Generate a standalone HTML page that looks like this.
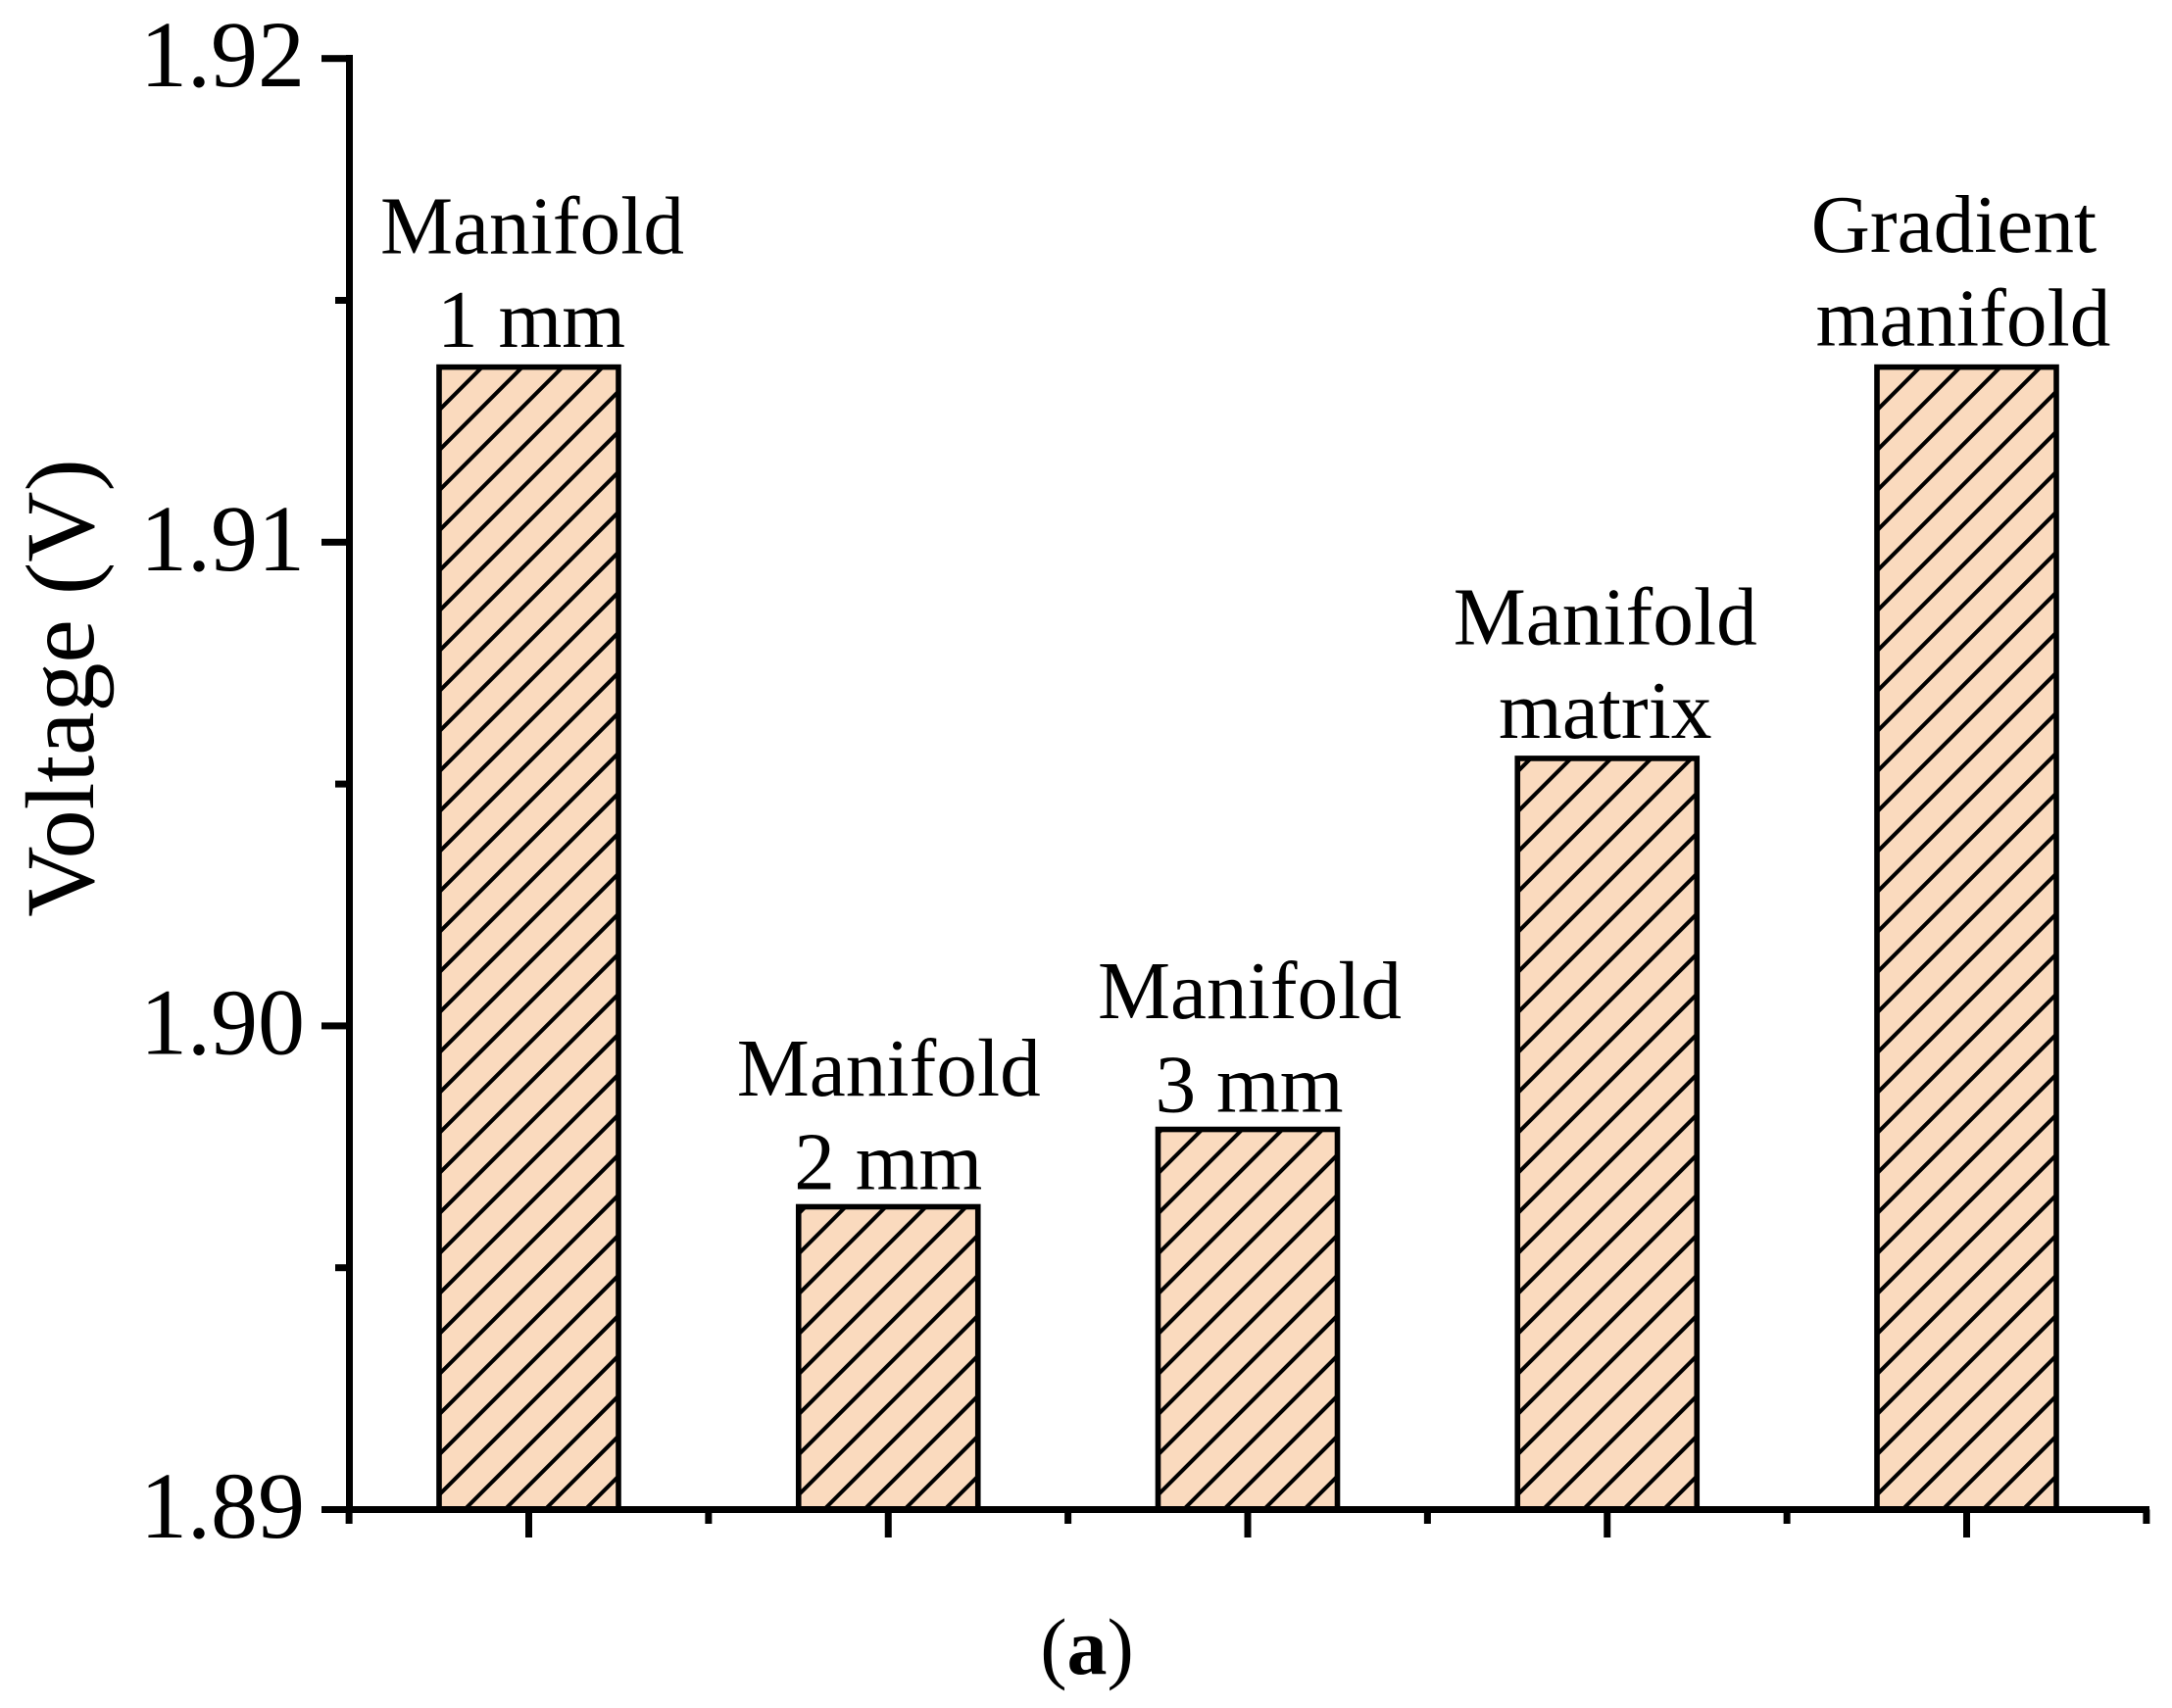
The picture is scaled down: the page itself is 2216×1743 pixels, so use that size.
<!DOCTYPE html>
<html lang="en">
<head>
<meta charset="utf-8">
<title>Voltage bar chart</title>
<style>
html,body{margin:0;padding:0;background:#fff;}
svg{display:block;}
text{font-family:"Liberation Serif",serif;fill:#000;}
</style>
</head>
<body>
<svg id="chart" xmlns="http://www.w3.org/2000/svg" width="2216" height="1743" viewBox="0 0 2216 1743">
  <rect x="0" y="0" width="2216" height="1743" fill="#fff"/>
  <defs id="defs"></defs>
  <g id="bars"></g>
  <g id="axes"></g>
  <g id="labels"></g>
  <text transform="translate(95,702) rotate(-90)" text-anchor="middle" font-size="100">Voltage (V)</text>
  <text x="1109" y="1708" text-anchor="middle" font-size="82">(<tspan font-weight="bold">a</tspan>)</text>
</svg>
<script>
const categories = [["Manifold","1 mm"],["Manifold","2 mm"],["Manifold","3 mm"],["Manifold","matrix"],["Gradient","manifold"]];
const voltages = [1.91362, 1.89626, 1.89786, 1.90553, 1.91362];
const yMajorTicks = ["1.89","1.90","1.91","1.92"];
const yMinorTicks = [1.895, 1.905, 1.915];

const NS = "http://www.w3.org/2000/svg";
const yMin = 1.89, yMax = 1.92;
const plotBottom = 1540.5, plotTop = 59.7;
const firstCenter = 539.5, band = 366.75, barWidth = 183;
const yScale = v => plotBottom - (v - yMin) / (yMax - yMin) * (plotBottom - plotTop);
const xScale = i => firstCenter + i * band;

// Hand-placed label nudges relative to each bar (layout only, not data)
const labelNudgeX1 = [3.5, 0.5, 2, -2, -13];
const labelNudgeX2 = [2.5, 0, 1.5, -2, -3.5];
const labelGap = [20.7, 18, 18, 20.7, 22];
const lineGap = 95.5;

function make(parent, tag, attrs) {
  const el = document.createElementNS(NS, tag);
  for (const k in attrs) el.setAttribute(k, attrs[k]);
  parent.appendChild(el);
  return el;
}

const barsG = document.getElementById("bars");
const axesG = document.getElementById("axes");
const labelsG = document.getElementById("labels");
const defs = document.getElementById("defs");

voltages.forEach((v, i) => {
  const left = xScale(i) - barWidth / 2;
  const top = yScale(v);
  const h = plotBottom - top;

  const clip = make(defs, "clipPath", {id: "bar-clip-" + i});
  make(clip, "rect", {x: left, y: top, width: barWidth, height: h});

  const fill = make(barsG, "rect", {x: left, y: top, width: barWidth, height: h, fill: "#fadabe"});
  
  

  const hatch = make(barsG, "g", {"clip-path": "url(#bar-clip-" + i + ")", stroke: "#000", "stroke-width": 4});
  
  
  const spacing = 41;
  for (let s = left + 26 - spacing * 40; s < left + barWidth + 10; s += spacing) {
    if (s + h + 10 < left) continue;
    make(hatch, "line", {x1: s, y1: plotBottom, x2: s + h + 10, y2: plotBottom - h - 10});
  }

  const outline = make(barsG, "rect", {x: left, y: top, width: barWidth, height: h, fill: "none", stroke: "#000", "stroke-width": 5.6});
  
  

  const baseline2 = top - labelGap[i];

  const line1 = make(labelsG, "text", {x: xScale(i) + labelNudgeX1[i], y: baseline2 - lineGap, "text-anchor": "middle", "font-size": 83.3});
  line1.textContent = categories[i][0];
  
  

  const line2 = make(labelsG, "text", {x: xScale(i) + labelNudgeX2[i], y: baseline2, "text-anchor": "middle", "font-size": 83.3});
  line2.textContent = categories[i][1];
  
  
});

const axisX = 356.5;
const yAxisLine = make(axesG, "rect", {x: axisX - 3.5, y: plotTop - 3.7, width: 7, height: plotBottom - plotTop + 7.2, fill: "#000"});



const xAxisLine = make(axesG, "rect", {x: 328, y: plotBottom - 3.5, width: 2193 - 328, height: 7, fill: "#000"});



yMajorTicks.forEach(t => {
  const y = yScale(parseFloat(t));
  const tick = make(axesG, "rect", {x: 328, y: y - 3.5, width: axisX - 328, height: 7, fill: "#000"});
  
  
  const label = make(axesG, "text", {x: 311, y: y + 28.5, "text-anchor": "end", "font-size": 96});
  label.textContent = t;
  
  
});

yMinorTicks.forEach(t => {
  const tick = make(axesG, "rect", {x: 342, y: yScale(t) - 3.5, width: axisX - 342, height: 7, fill: "#000"});
  
  
});

categories.forEach((c, i) => {
  const tick = make(axesG, "rect", {x: xScale(i) - 3.5, y: plotBottom, width: 7, height: 1569 - plotBottom, fill: "#000"});
  
  
});

for (let i = 0; i <= categories.length; i++) {
  const tick = make(axesG, "rect", {x: xScale(i) - band / 2 - 3.5, y: plotBottom, width: 7, height: 1555 - plotBottom, fill: "#000"});
  
  
}
</script>
</body>
</html>
